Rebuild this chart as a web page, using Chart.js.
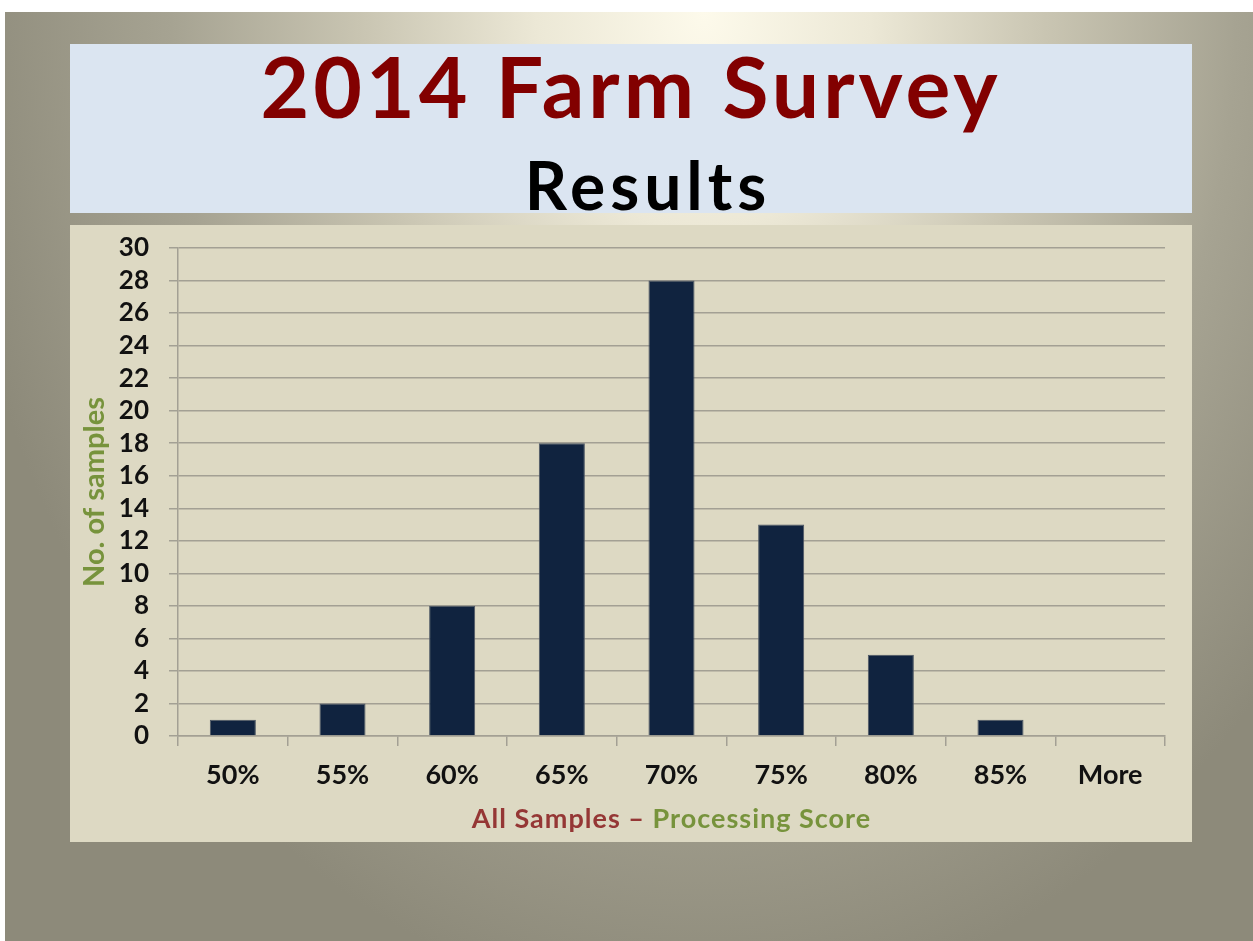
<!DOCTYPE html>
<html>
<head>
<meta charset="utf-8">
<script src="https://cdn.jsdelivr.net/npm/chart.js@4/dist/chart.umd.min.js"></script>
<style>
  html, body { margin: 0; padding: 0; background: #fff; }
  body { width: 1253px; height: 941px; position: relative; overflow: hidden; }
  #slide {
    position: absolute; left: 5px; top: 12px; width: 1248px; height: 929px;
    background: radial-gradient(ellipse 760px 1000px at 56% 0%, #fdfaeb 0%, #ece8d6 22%, #c9c5b2 45%, #a6a392 70%, #8d8a7a 100%);
  }
  #titleBox {
    position: absolute; left: 70px; top: 44px; width: 1122px; height: 169px;
    background: #dbe5f1; text-align: center;
    font-family: Lato, sans-serif; font-weight: bold;
  }
  #t1 { position: absolute; left: 0; right: 0; top: -8px; font-size: 84px; line-height: 100px; color: #820000; letter-spacing: 4px; }
  #t2 { position: absolute; left: 34px; right: 0; top: 106px; font-size: 66px; line-height: 70px; color: #000; letter-spacing: 5px; }
  #chartBox {
    position: absolute; left: 70px; top: 225px; width: 1122px; height: 617px;
    background: #ddd9c3;
  }
</style>
</head>
<body>
<div id="slide"></div>
<div id="titleBox">
  <div id="t1">2014 Farm Survey</div>
  <div id="t2">Results</div>
</div>
<div id="chartBox"><canvas id="farmChart" width="1122" height="617"></canvas></div>

<script>
// Datos del gráfico
const scoreLabels = ['50%', '55%', '60%', '65%', '70%', '75%', '80%', '85%', 'More'];
const sampleCounts = [1, 2, 8, 18, 28, 13, 5, 1, 0];
const yTicks = [0, 2, 4, 6, 8, 10, 12, 14, 16, 18, 20, 22, 24, 26, 28, 30];
const xTitleParts = [['All Samples \u2013 ', '#953735'], ['Processing Score', '#77933c']];

const gridColor = '#a3a094';

// Título del eje X en dos colores
const xTitlePlugin = {
  id: 'xTitle',
  afterDraw(chart) {
    const ctx = chart.ctx;
    const area = chart.chartArea;
    ctx.save();
    ctx.font = 'bold 27px Lato';
    ctx.letterSpacing = '1px';
    ctx.textBaseline = 'middle';
    ctx.textAlign = 'left';
    const total = xTitleParts.reduce((w, p) => w + ctx.measureText(p[0]).width, 0);
    let x = (area.left + area.right) / 2 - total / 2;
    xTitleParts.forEach(p => {
      ctx.fillStyle = p[1];
      ctx.fillText(p[0], x, 594);
      x += ctx.measureText(p[0]).width;
    });
    ctx.restore();
  }
};

function drawChart() {
  Chart.defaults.font.family = 'Lato';
  const ctx = document.getElementById('farmChart').getContext('2d');
  new Chart(ctx, {
    type: 'bar',
    data: {
      labels: scoreLabels,
      datasets: [{
        data: sampleCounts,
        backgroundColor: '#10233f',
        borderColor: '#4b5563',
        borderWidth: 1,
        categoryPercentage: 1,
        barPercentage: 0.42
      }]
    },
    options: {
      responsive: false,
      animation: false,
      layout: { padding: { top: 23, right: 27, left: 0, bottom: 0 } },
      plugins: {
        legend: { display: false },
        tooltip: { enabled: false }
      },
      scales: {
        x: {
          afterFit(scale) { scale.height = 106; },
          grid: { drawOnChartArea: false, offset: true, color: gridColor, lineWidth: 1.5, tickLength: 10 },
          border: { display: true, color: gridColor, width: 1.5 },
          ticks: { color: '#111', font: { size: 27, weight: 'bold' }, padding: 13, autoSkip: false, maxRotation: 0 }
        },
        y: {
          min: 0,
          max: 30,
          afterFit(scale) {
            scale.width = 108;
            scale.paddingTop = 0;
            scale.paddingBottom = 0;
          },
          afterBuildTicks(scale) { scale.ticks = yTicks.map(v => ({ value: v })); },
          grid: { color: gridColor, lineWidth: 1.5, tickLength: 9 },
          border: { display: true, color: gridColor, width: 1.5 },
          ticks: { color: '#111', font: { size: 26, weight: 'bold' }, padding: 20, autoSkip: false },
          title: {
            display: true,
            text: 'No. of samples',
            color: '#77933c',
            font: { size: 29, weight: 'bold' },
            padding: { top: 7, bottom: 0 }
          }
        }
      }
    },
    plugins: [xTitlePlugin]
  });
}

document.fonts.load('bold 25px Lato').then(drawChart, drawChart);
</script>
</body>
</html>
